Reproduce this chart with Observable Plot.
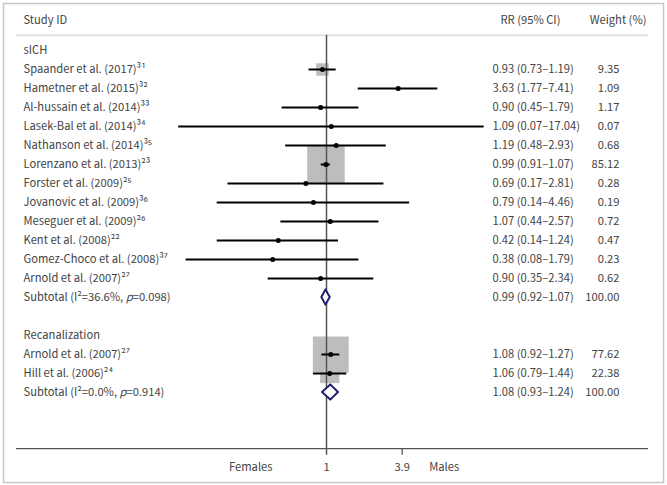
<!DOCTYPE html>
<html><head><meta charset="utf-8">
<script src="https://cdn.jsdelivr.net/npm/d3@7"></script>
<script src="https://cdn.jsdelivr.net/npm/@observablehq/plot@0.6"></script>
<style>body{margin:0;background:#fff} svg{display:block}</style>
</head><body><div id="chart"></div>
<script>
// ---- data ----
const sichAuthors = ["Spaander et al. (2017)", "Hametner et al. (2015)", "Al-hussain et al. (2014)", "Lasek-Bal et al. (2014)", "Nathanson et al. (2014)", "Lorenzano et al. (2013)", "Forster et al. (2009)", "Jovanovic et al. (2009)", "Meseguer et al. (2009)", "Kent et al. (2008)", "Gomez-Choco et al. (2008)", "Arnold et al. (2007)"];
const sichRefs = ["31", "32", "33", "34", "35", "23", "25", "36", "26", "22", "37", "27"];
const sichRR = [0.93, 3.63, 0.90, 1.09, 1.19, 0.99, 0.69, 0.79, 1.07, 0.42, 0.38, 0.90];
const sichLo = [0.73, 1.77, 0.45, 0.07, 0.48, 0.91, 0.17, 0.14, 0.44, 0.14, 0.08, 0.35];
const sichHi = [1.19, 7.41, 1.79, 17.04, 2.93, 1.07, 2.81, 4.46, 2.57, 1.24, 1.79, 2.34];
const sichWeight = [9.35, 1.09, 1.17, 0.07, 0.68, 85.12, 0.28, 0.19, 0.72, 0.47, 0.23, 0.62];

const recAuthors = ["Arnold et al. (2007)", "Hill et al. (2006)"];
const recRefs = ["27", "24"];
const recRR = [1.08, 1.06];
const recLo = [0.92, 0.79];
const recHi = [1.27, 1.44];
const recWeight = [77.62, 22.38];

const groupNames = ["sICH", "Recanalization"];
const subLabels = ["Subtotal (I²=36.6%, p=0.098)", "Subtotal (I²=0.0%, p=0.914)"];
const subRR = [0.99, 1.08];
const subLo = [0.92, 0.93];
const subHi = [1.07, 1.24];
const subWeight = [100.00, 100.00];

const axisTicks = [1, 3.9];
const axisTickLabels = ["1", "3.9"];
const sideLabels = ["Females", "Males"];
const headers = ["Study ID", "RR (95% CI)", "Weight (%)"];

// ---- table build ----
const supMap = {"0":"⁰","1":"¹","2":"²","3":"³","4":"⁴","5":"⁵","6":"⁶","7":"⁷","8":"⁸","9":"⁹"};
const sup = s => s.split("").map(c => supMap[c]).join("");
const fmt = v => v.toFixed(2);

const studies = [];
sichAuthors.forEach((a, i) => studies.push({label: a + sup(sichRefs[i]), rr: sichRR[i], lo: sichLo[i], hi: sichHi[i], w: sichWeight[i], row: 2 + i}));
recAuthors.forEach((a, i) => studies.push({label: a + sup(recRefs[i]), rr: recRR[i], lo: recLo[i], hi: recHi[i], w: recWeight[i], row: 17 + i}));
const subRows = [14, 19];
const subs = subLabels.map((l, i) => ({label: l, rr: subRR[i], lo: subLo[i], hi: subHi[i], w: subWeight[i], row: subRows[i]}));
const groups = groupNames.map((g, i) => ({label: g, row: [1, 16][i]}));
const allRows = [...studies, ...subs];
allRows.forEach(d => { d.ci = `${fmt(d.rr)} (${fmt(d.lo)}–${fmt(d.hi)})`; d.wt = fmt(d.w); });

const diamonds = [];
subs.forEach((d, i) => {
  diamonds.push({g: i, y: d.row - 0.4, x1: d.rr, x2: d.rr});
  diamonds.push({g: i, y: d.row, x1: d.lo, x2: d.hi});
  diamonds.push({g: i, y: d.row + 0.4, x1: d.rr, x2: d.rr});
});

const ink = "#444";
const chart = Plot.plot({
  width: 667, height: 485, margin: 0,
  style: {fontFamily: "'Noto Sans CJK KR', 'Noto Sans', sans-serif", fontSize: "11.2px", color: ink, background: "#fff"},
  x: {type: "log", domain: [0.01, 100], range: [70, 582], axis: null},
  y: {domain: [-1, 23], range: [12, 468], axis: null},
  r: {type: "sqrt", domain: [0, 85.12], range: [0, 21.2]},
  marks: [
    Plot.frame({stroke: "#c8c8c8", strokeWidth: 1.5, insetLeft: 3, insetTop: 3, insetRight: 4, insetBottom: 3}),
    Plot.ruleY([0.2], {stroke: "#e3e3e3", strokeWidth: 2, insetLeft: 16, insetRight: 19}),
    Plot.ruleY([21.95], {stroke: "#555", strokeWidth: 1.3, insetLeft: 16, insetRight: 19}),
    Plot.dot(studies, {x: "rr", y: "row", r: "w", symbol: "square", fill: "#bdbdbd", stroke: null}),
    Plot.ruleX([1], {y1: 0.2, y2: 22.3, stroke: "#555", strokeWidth: 1.5}),
    Plot.ruleX([3.9], {y1: 21.95, y2: 22.3, stroke: "#555", strokeWidth: 1.3}),
    Plot.ruleY(studies, {y: "row", x1: "lo", x2: "hi", stroke: "#000", strokeWidth: 2}),
    Plot.dot(studies, {x: "rr", y: "row", r: 2.5, fill: "#000", stroke: null}),
    Plot.areaX(diamonds, {y: "y", x1: "x1", x2: "x2", z: "g", fill: "white", stroke: "#1f1f70", strokeWidth: 2, curve: "linear"}),
    // headers
    Plot.text([headers[0]], {text: d => d, y: [-0.58], frameAnchor: "left", dx: 23, textAnchor: "start", fill: ink}),
    Plot.text([headers[1]], {text: d => d, y: [-0.58], frameAnchor: "left", dx: 500, textAnchor: "start", fill: ink}),
    Plot.text([headers[2]], {text: d => d, y: [-0.58], frameAnchor: "right", dx: -21, textAnchor: "end", fill: ink}),
    // left labels
    Plot.text(groups, {text: "label", y: "row", frameAnchor: "left", dx: 23, textAnchor: "start", fill: ink}),
    Plot.text(allRows, {text: "label", y: "row", frameAnchor: "left", dx: 23, textAnchor: "start", fill: ink}),
    // right columns
    Plot.text(allRows, {text: "ci", y: "row", frameAnchor: "left", dx: 492, textAnchor: "start", fill: ink}),
    Plot.text(allRows, {text: "wt", y: "row", frameAnchor: "right", dx: -48, textAnchor: "end", fill: ink}),
    // axis labels
    Plot.text(axisTicks, {x: d => d, y: [22.95, 22.95], text: (d, i) => axisTickLabels[i], textAnchor: "middle", fill: ink}),
    Plot.text([sideLabels[0]], {x: [1], y: [22.95], text: d => d, textAnchor: "end", dx: -54, fill: ink}),
    Plot.text([sideLabels[1]], {x: [3.9], y: [22.95], text: d => d, textAnchor: "start", dx: 27, fill: ink})
  ]
});

// italic p in subtotal labels
const ns = "http://www.w3.org/2000/svg";
chart.querySelectorAll("text").forEach(t => {
  const s = t.textContent;
  if (s.startsWith("Subtotal") && s.includes("p=")) {
    const idx = s.indexOf("p=");
    t.textContent = "";
    t.append(s.slice(0, idx));
    const it = document.createElementNS(ns, "tspan");
    it.setAttribute("font-style", "italic");
    it.textContent = "p";
    t.append(it);
    t.append(s.slice(idx + 1));
  }
});
document.getElementById("chart").append(chart);
</script>
</body></html>
